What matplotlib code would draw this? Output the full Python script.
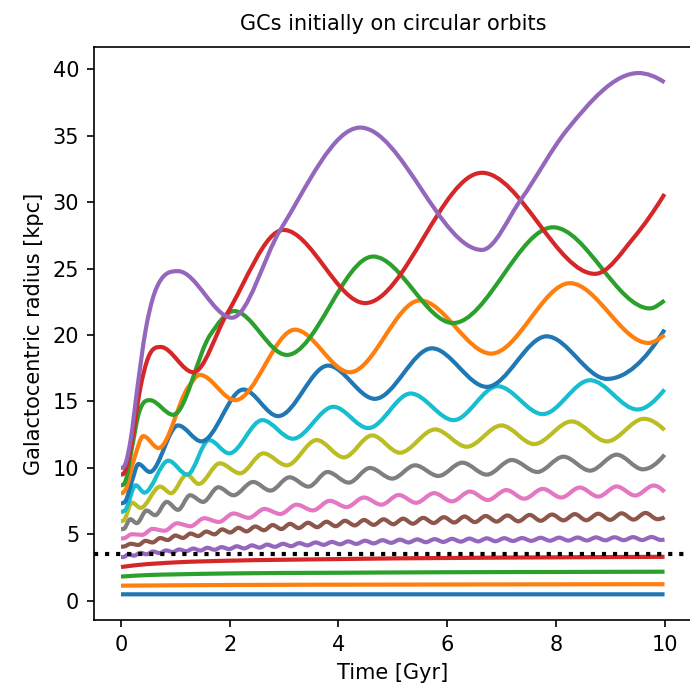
import numpy as np
import matplotlib
matplotlib.use("Agg")
import matplotlib.pyplot as plt
from matplotlib.path import Path
from matplotlib.patches import PathPatch

# (time [Gyr], radius [kpc]), mostly at the turning points
gc01 = [(0, 0.5), (10, 0.5)]
gc02 = [(0, 1.15), (2, 1.2), (5, 1.23), (10, 1.26)]
gc03 = [(0, 1.83), (0.5, 1.95), (1, 2.0), (2, 2.07), (4, 2.12), (6, 2.16), (8, 2.18), (10, 2.2)]
gc04 = [(0, 2.55), (0.3, 2.7), (1, 2.9), (2, 3.03), (3, 3.1), (4, 3.15), (5, 3.2), (6, 3.23),
        (7, 3.26), (8, 3.28), (9, 3.3), (10, 3.32)]
gc05 = [(0, 3.30), (0.06, 3.32), (0.13, 3.49), (0.24, 3.41), (0.36, 3.62), (0.47, 3.51),
        (0.59, 3.72), (0.71, 3.60), (0.83, 3.80), (0.95, 3.68), (1.07, 3.87), (1.20, 3.74),
        (1.33, 3.94), (1.46, 3.79), (1.59, 4.00), (1.72, 3.85), (1.85, 4.05), (1.99, 3.90),
        (2.13, 4.11), (2.27, 3.95), (2.41, 4.18), (2.55, 4.01), (2.69, 4.24), (2.83, 4.07),
        (2.98, 4.30), (3.13, 4.12), (3.28, 4.35), (3.43, 4.18), (3.58, 4.40), (3.73, 4.22),
        (3.88, 4.44), (4.03, 4.26), (4.18, 4.48), (4.33, 4.29), (4.49, 4.53), (4.65, 4.33),
        (4.81, 4.57), (4.97, 4.37), (5.13, 4.61), (5.29, 4.40), (5.45, 4.63), (5.61, 4.42),
        (5.77, 4.65), (5.93, 4.44), (6.09, 4.67), (6.25, 4.46), (6.41, 4.69), (6.57, 4.48),
        (6.73, 4.71), (6.89, 4.49), (7.05, 4.72), (7.21, 4.51), (7.38, 4.73), (7.55, 4.52),
        (7.72, 4.75), (7.89, 4.53), (8.06, 4.76), (8.23, 4.54), (8.40, 4.77), (8.57, 4.55),
        (8.74, 4.78), (8.91, 4.56), (9.08, 4.79), (9.25, 4.57), (9.42, 4.80), (9.59, 4.58),
        (9.76, 4.81), (9.93, 4.59), (10.0, 4.62)]
gc06 = [(0, 4.08), (0.06, 4.10), (0.18, 4.30), (0.32, 4.21), (0.45, 4.52), (0.58, 4.40),
        (0.72, 4.73), (0.86, 4.58), (1.00, 4.92), (1.14, 4.74), (1.28, 5.07), (1.42, 4.88),
        (1.57, 5.22), (1.72, 5.01), (1.86, 5.38), (2.01, 5.15), (2.16, 5.50), (2.31, 5.23),
        (2.47, 5.60), (2.63, 5.32), (2.79, 5.71), (2.95, 5.41), (3.11, 5.80), (3.27, 5.48),
        (3.44, 5.88), (3.61, 5.55), (3.78, 5.96), (3.95, 5.62), (4.12, 6.03), (4.30, 5.68),
        (4.47, 6.09), (4.65, 5.72), (4.83, 6.14), (5.01, 5.77), (5.19, 6.19), (5.37, 5.81),
        (5.56, 6.25), (5.75, 5.86), (5.94, 6.30), (6.13, 5.90), (6.32, 6.35), (6.51, 5.93),
        (6.71, 6.39), (6.91, 5.97), (7.11, 6.43), (7.31, 5.99), (7.52, 6.47), (7.72, 6.03),
        (7.93, 6.50), (8.14, 6.06), (8.35, 6.53), (8.56, 6.07), (8.78, 6.56), (9.00, 6.10),
        (9.21, 6.59), (9.43, 6.12), (9.65, 6.62), (9.87, 6.15), (10.0, 6.30)]
gc07 = [(0, 4.70), (0.06, 4.72), (0.20, 5.02), (0.39, 4.97), (0.58, 5.42), (0.80, 5.28),
        (1.03, 5.84), (1.28, 5.62), (1.53, 6.22), (1.80, 5.94), (2.07, 6.58), (2.35, 6.25),
        (2.64, 6.92), (2.93, 6.54), (3.23, 7.24), (3.53, 6.81), (3.84, 7.53), (4.15, 7.06),
        (4.47, 7.78), (4.79, 7.24), (5.11, 7.97), (5.43, 7.38), (5.76, 8.11), (6.09, 7.49),
        (6.42, 8.23), (6.75, 7.59), (7.09, 8.34), (7.42, 7.69), (7.76, 8.43), (8.10, 7.78),
        (8.44, 8.53), (8.78, 7.85), (9.12, 8.61), (9.46, 7.93), (9.80, 8.68), (10.0, 8.20)]
gc08 = [(0, 5.4), (0.06, 5.45), (0.17, 6.15), (0.29, 5.85), (0.47, 6.8), (0.63, 6.45),
        (0.84, 7.45), (1.05, 6.85), (1.27, 7.95), (1.51, 7.45), (1.79, 8.55), (2.07, 7.95),
        (2.43, 8.95), (2.75, 8.3), (3.1, 9.3), (3.45, 8.6), (3.8, 9.7), (4.19, 8.9),
        (4.58, 10.0), (4.99, 9.2), (5.41, 10.2), (5.84, 9.4), (6.28, 10.4), (6.73, 9.5),
        (7.19, 10.6), (7.66, 9.7), (8.14, 10.85), (8.63, 9.8), (9.12, 11.0), (9.6, 9.9),
        (10.0, 11.0)]
gc09 = [(0, 6.0), (0.06, 6.1), (0.2, 7.4), (0.36, 7.0), (0.72, 8.6), (0.92, 8.1),
        (1.21, 9.5), (1.43, 8.8), (1.82, 10.35), (2.19, 9.6), (2.62, 11.1), (3.05, 10.2),
        (3.6, 12.1), (4.1, 10.8), (4.62, 12.45), (5.13, 11.15), (5.78, 12.9), (6.36, 11.6),
        (7.0, 13.2), (7.6, 11.8), (8.29, 13.5), (8.94, 12.0), (9.62, 13.7), (10.0, 12.85)]
gc10 = [(0, 6.7), (0.08, 6.85), (0.27, 8.7), (0.43, 8.15), (0.87, 10.55), (1.22, 9.5),
        (1.62, 12.1), (1.99, 11.1), (2.6, 13.6), (3.16, 12.2), (3.91, 14.6), (4.55, 13.0),
        (5.33, 15.6), (6.12, 13.6), (6.93, 16.15), (7.76, 14.05), (8.63, 16.6), (9.5, 14.4),
        (10.0, 15.9)]
gc11 = [(0, 7.35), (0.08, 7.5), (0.2, 9.0), (0.32, 10.3), (0.53, 9.7), (1.05, 13.2),
        (1.48, 12.0), (2.25, 15.9), (2.89, 13.9), (3.81, 17.7), (4.67, 15.2), (5.72, 19.0),
        (6.73, 16.1), (7.83, 19.9), (8.94, 16.7), (10.0, 20.4)]
gc12 = [(0, 8.1), (0.08, 8.35), (0.25, 10.8), (0.41, 12.4), (0.69, 11.5), (1.24, 16.1),
        (1.45, 17.0), (2.10, 15.1), (3.20, 20.4), (4.21, 17.2), (5.50, 22.6), (6.81, 18.6),
        (8.26, 23.9), (9.70, 19.4), (10.0, 20.0)]
gc13 = [(0, 8.7), (0.08, 9.0), (0.2, 11.5), (0.32, 14.0), (0.53, 15.1), (0.96, 14.0),
        (1.64, 20.0), (2.08, 21.8), (3.05, 18.5), (4.64, 25.9), (6.11, 20.9),
        (7.95, 28.1), (9.73, 22.0), (10.0, 22.6)]
gc14 = [(0, 9.5), (0.08, 9.8), (0.2, 12.0), (0.35, 15.9), (0.5, 18.3), (0.73, 19.1),
        (1.33, 17.2), (1.95, 21.6), (2.99, 27.9), (4.49, 22.4), (6.64, 32.2),
        (8.72, 24.6), (9.43, 27.3), (10.0, 30.6)]
gc15 = [(0, 10.0), (0.08, 10.3), (0.18, 12.2), (0.3, 16.0), (0.45, 20.3), (0.62, 23.2),
        (1.05, 24.8), (2.04, 21.3), (2.93, 27.9), (4.4, 35.6), (6.64, 26.4),
        (7.36, 30.2), (8.2, 35.4), (9.52, 39.7), (10.0, 39.0)]

orbits = [gc01, gc02, gc03, gc04, gc05, gc06, gc07, gc08, gc09, gc10,
          gc11, gc12, gc13, gc14, gc15]
r_limit = 3.5


def end_slope(h0, h1, d0, d1):
    m = ((2 * h0 + h1) * d0 - h0 * d1) / (h0 + h1)
    if np.sign(m) != np.sign(d0):
        m = 0.0
    elif np.sign(d0) != np.sign(d1) and abs(m) > 3 * abs(d0):
        m = 3 * d0
    return m


def smooth_path(pts):
    # smooth curve through the read points (flat at turning points),
    # drawn as cubic bezier segments
    t, r = np.array(pts, dtype=float).T
    h = np.diff(t)
    d = np.diff(r) / h
    m = np.zeros(len(r))
    if len(r) == 2:
        m[:] = d[0]
    else:
        for i in range(1, len(r) - 1):
            if d[i - 1] * d[i] > 0:
                s = (h[i] * d[i - 1] + h[i - 1] * d[i]) / (h[i - 1] + h[i])
                lim = 3 * min(abs(d[i - 1]), abs(d[i]))
                m[i] = np.sign(s) * min(abs(s), lim)
        m[0] = end_slope(h[0], h[1], d[0], d[1])
        m[-1] = end_slope(h[-1], h[-2], d[-1], d[-2])
    verts = [(t[0], r[0])]
    codes = [Path.MOVETO]
    for i in range(len(h)):
        verts += [(t[i] + h[i] / 3, r[i] + m[i] * h[i] / 3),
                  (t[i + 1] - h[i] / 3, r[i + 1] - m[i + 1] * h[i] / 3),
                  (t[i + 1], r[i + 1])]
        codes += [Path.CURVE4] * 3
    return Path(verts, codes)


fig = plt.figure(figsize=(4.6, 4.62), dpi=150)
ax = fig.add_axes([0.136, 0.1048, 0.8665, 0.8274])

for i, pts in enumerate(orbits):
    ax.add_patch(PathPatch(smooth_path(pts), fill=False, lw=2,
                           edgecolor='C%d' % (i % 10), capstyle='butt',
                           joinstyle='round'))
ax.autoscale_view()
ax.axhline(r_limit, color='k', ls=':', lw=2, zorder=3)

ax.set_xlabel('Time [Gyr]')
ax.set_ylabel('Galactocentric radius [kpc]')
ax.set_title('GCs initially on circular orbits', fontsize=10, pad=8)

fig.savefig('out.png', dpi=150)
